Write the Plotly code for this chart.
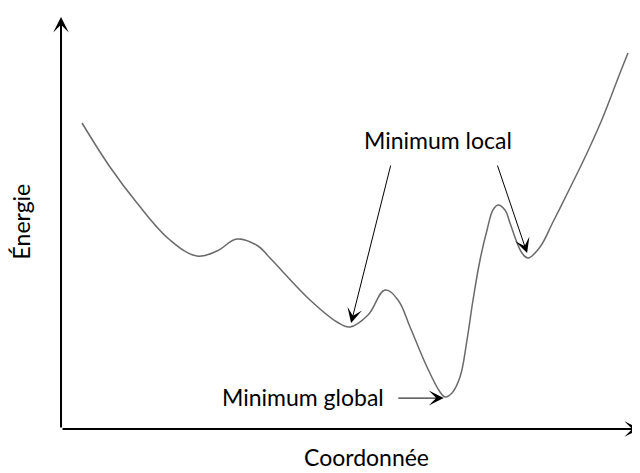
import plotly.graph_objects as go

# Energy profile (coordinate 0-100, energy 0-100)
coord = [3.63, 8.46, 13.13, 18.83, 23.49, 26.94, 30.40, 34.02, 36.10, 43.01, 47.67, 49.91,
         53.02, 55.96, 58.20, 60.28, 63.21, 65.46, 66.32, 67.53, 68.91, 70.12, 71.16, 72.37,
         73.58, 74.61, 75.47, 76.68, 77.55, 78.58, 79.62, 80.66, 82.73, 84.97, 87.91, 90.85,
         93.61, 96.55, 97.93]
energy = [74.27, 63.59, 54.85, 45.87, 41.99, 43.20, 46.12, 44.42, 41.50, 31.31, 25.97, 24.76,
          27.67, 33.74, 31.31, 24.76, 15.05, 8.98, 7.77, 8.74, 12.62, 21.60, 31.31, 41.02,
          48.30, 53.16, 54.37, 53.16, 50.00, 45.87, 42.72, 41.50, 44.17, 50.24, 58.50, 66.99,
          75.73, 86.41, 91.26]

label_local = "Minimum local"
label_global = "Minimum global"
x_title = "Coordonnée"
y_title = "Énergie"

FONT = "Lato"
FS = 23

fig = go.Figure()
fig.add_trace(go.Scatter(x=coord, y=energy, mode="lines",
                         line=dict(color="#6a6a6a", width=1.5, shape="spline", smoothing=1.1),
                         hoverinfo="skip", showlegend=False))

ann = []
# axes with arrows
ann.append(dict(x=100, y=0, ax=0, ay=0, xref="x", yref="y", axref="x", ayref="y",
                text="", showarrow=True, arrowhead=3, arrowsize=1.3, arrowwidth=2, arrowcolor="black"))
ann.append(dict(x=0, y=100, ax=0, ay=0, xref="x", yref="y", axref="x", ayref="y",
                text="", showarrow=True, arrowhead=3, arrowsize=1.3, arrowwidth=2, arrowcolor="black"))
# local minimum arrows
ann.append(dict(x=50.1, y=25.7, ax=57.0, ay=64.3, xref="x", yref="y", axref="x", ayref="y",
                text="", showarrow=True, arrowhead=3, arrowsize=2.5, arrowwidth=1, arrowcolor="black"))
ann.append(dict(x=80.5, y=42.7, ax=75.3, ay=64.3, xref="x", yref="y", axref="x", ayref="y",
                text="", showarrow=True, arrowhead=3, arrowsize=2.5, arrowwidth=1, arrowcolor="black"))
ann.append(dict(x=66.1, y=7.5, ax=58.0, ay=7.5, xref="x", yref="y", axref="x", ayref="y",
                text="", showarrow=True, arrowhead=3, arrowsize=2.5, arrowwidth=1, arrowcolor="black"))
# labels
ann.append(dict(x=65.1, y=70.1, xref="x", yref="y", text=label_local, showarrow=False,
                xanchor="center", yanchor="middle",
                font=dict(family=FONT, size=FS, color="black")))
ann.append(dict(x=41.8, y=7.8, xref="x", yref="y", text=label_global, showarrow=False,
                xanchor="center", yanchor="middle",
                font=dict(family=FONT, size=FS, color="black")))
ann.append(dict(x=0.527, y=-0.068, xref="paper", yref="paper", text=x_title, showarrow=False,
                xanchor="center", yanchor="middle",
                font=dict(family=FONT, size=FS, color="black")))
ann.append(dict(x=-0.07, y=0.505, xref="paper", yref="paper", text=y_title, showarrow=False,
                xanchor="center", yanchor="middle",
                textangle=-90, font=dict(family=FONT, size=FS, color="black")))

fig.update_layout(
    width=632, height=465,
    margin=dict(l=53, r=0, t=9, b=44),
    paper_bgcolor="white", plot_bgcolor="white",
    xaxis=dict(range=[0, 100], visible=False, fixedrange=True),
    yaxis=dict(range=[0, 100], visible=False, fixedrange=True),
    annotations=ann,
)
fig.write_html("out.html")
